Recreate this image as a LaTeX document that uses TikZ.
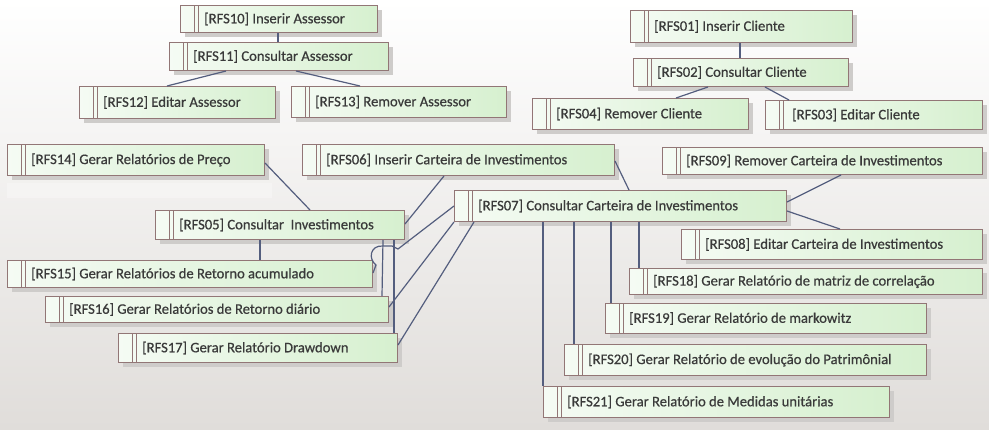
\documentclass[tikz,border=0pt]{standalone}
\usepackage{fontspec}
\setmainfont{Carlito}
\newfontfamily\reqfont{Carlito}[RawFeature={embolden=0.6}]
\usetikzlibrary{shadows}

\definecolor{reqborder}{RGB}{146,118,118}
\definecolor{reqleft}{RGB}{245,251,244}
\definecolor{reqright}{RGB}{214,240,207}
\definecolor{reqshadow}{RGB}{206,204,202}
\definecolor{reqtext}{RGB}{58,58,58}
\definecolor{linkcol}{RGB}{84,94,126}
\definecolor{bgbottom}{RGB}{224,221,218}

% requisito: nome, x, y, largura, altura, texto
\newcommand{\reqbox}[6]{%
  \node[req, minimum width=#4pt, minimum height=#5pt] (#1) at (#2,#3) {};
  \draw[reqborder, line width=0.8pt] ([xshift=14pt]#1.north west) -- ([xshift=14pt]#1.south west)
    ([xshift=18pt]#1.north west) -- ([xshift=18pt]#1.south west);
  \node[lbl] (#1l) at ([xshift=24pt]#1.west) {#6};
}

\begin{document}
\begin{tikzpicture}[
    x=1pt, y=-1pt,
    req/.style={draw=reqborder, line width=1pt, left color=reqleft, right color=reqright,
      inner sep=0pt, anchor=north west,
      drop shadow={shadow xshift=4pt, shadow yshift=-4pt, fill=reqshadow, opacity=1}},
    lbl/.style={font=\reqfont\fontsize{14.6}{16}\selectfont, text=reqtext, anchor=west, inner sep=0pt},
    link/.style={draw=linkcol, line width=1.2pt},
]
\fill[top color=white, bottom color=bgbottom] (0,0) rectangle (989,429);
\useasboundingbox (0,0) rectangle (989,429);
\fill[white, opacity=0.3] (7,183) rectangle (272,198);

% assessor
\reqbox{r10}{180}{5}{197}{27}{[RFS10] Inserir Assessor}
\reqbox{r11}{169}{42}{219}{28}{[RFS11] Consultar Assessor}
\reqbox{r12}{79}{86}{196}{32}{[RFS12] Editar Assessor}
\reqbox{r13}{291}{86}{215}{31}{[RFS13] Remover Assessor}
% cliente
\reqbox{r01}{630}{10}{222}{32}{[RFS01] Inserir Cliente}
\reqbox{r02}{633}{58}{215}{28}{[RFS02] Consultar Cliente}
\reqbox{r04}{532}{98}{216}{31}{[RFS04] Remover Cliente}
\reqbox{r03}{765}{100}{217}{29}{\hspace{3pt}[RFS03] Editar Cliente}
% carteira
\reqbox{r14}{7}{144}{257}{31}{[RFS14] Gerar Relatórios de Preço}
\reqbox{r06}{302}{144}{312}{31}{[RFS06] Inserir Carteira de Investimentos}
\reqbox{r09}{662}{147}{320}{27}{[RFS09] Remover Carteira de Investimentos}
\reqbox{r07}{454}{190}{332}{31}{[RFS07] Consultar Carteira de Investimentos}
\reqbox{r05}{155}{210}{249}{29}{[RFS05] Consultar\ \ Investimentos}
\reqbox{r08}{681}{229}{301}{30}{[RFS08] Editar Carteira de Investimentos}
\reqbox{r15}{7}{260}{365}{27}{[RFS15] Gerar Relatórios de Retorno acumulado}
\reqbox{r18}{629}{268}{353}{26}{[RFS18] Gerar Relatório de matriz de correlação}
\reqbox{r16}{45}{296}{343}{26}{[RFS16] Gerar Relatórios de Retorno diário}
\reqbox{r19}{605}{303}{321}{30}{[RFS19] Gerar Relatório de markowitz}
\reqbox{r17}{118}{333}{279}{29}{[RFS17] Gerar Relatório Drawdown}
\reqbox{r20}{564}{344}{362}{31}{[RFS20] Gerar Relatório de evolução do Patrimônial}
\reqbox{r21}{543}{386}{346}{31}{[RFS21] Gerar Relatório de Medidas unitárias}

% ligacoes
\draw[link] (r10.south -| 278,0) -- (r11.north -| 278,0);
\draw[link] (r11.south -| 226,0) -- (r12.north -| 167,0);
\draw[link] (r11.south -| 296,0) -- (r13.north -| 360,0);
\draw[link] (r01.south -| 740,0) -- (r02.north -| 740,0);
\draw[link] (r02.south -| 708,0) -- (r04.north -| 676,0);
\draw[link] (r02.south -| 765,0) -- (r03.north -| 789,0);
\draw[link] (r14.east |- 0,163) -- (r05.north -| 310,0);
\draw[link] (r06.south -| 444,0) -- (r05.east |- 0,224);
\draw[link] (r06.east |- 0,161) -- (r07.north -| 629,0);
\draw[link] (r09.south -| 841,0) -- (r07.east |- 0,202);
\draw[link] (r07.east |- 0,211) -- (r08.north -| 840,0);
\draw[link] (r05.south -| 260,0) -- (r15.north -| 260,0);
\draw[link] (r05.south -| 383,0) -- (r16.north -| 382,0);
\draw[link] (r05.south -| 394,0) -- (r17.north -| 394,0);
\draw[link] (r07.west |- 0,206) -- (398,249) -- (392,246) -- (383,246)
  .. controls (370,245) and (368,259) .. (376,265) -- (r15.east |- 0,273);
\draw[link] (r07.south west) -- (r16.east |- 0,307);
\draw[link] (r07.south -| 474,0) -- (r17.east |- 0,345);
\draw[link] (r07.south -| 543,0) -- (r21.north -| 543,0);
\draw[link] (r07.south -| 574,0) -- (r20.north -| 574,0);
\draw[link] (r07.south -| 611,0) -- (r19.north -| 611,0);
\draw[link] (r07.south -| 639,0) -- (r18.north -| 639,0);
\end{tikzpicture}
\end{document}
